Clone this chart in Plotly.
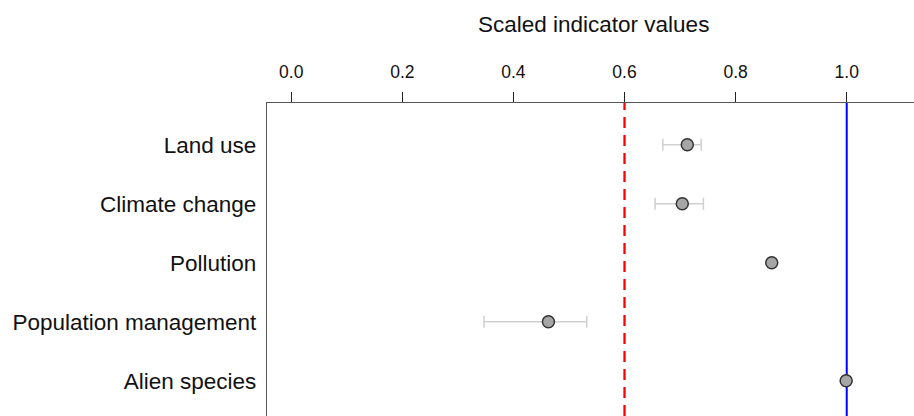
import plotly.graph_objects as go

categories = ["Land use", "Climate change", "Pollution", "Population management", "Alien species"]
values = [0.713, 0.704, 0.865, 0.463, 0.999]
lower = [0.669, 0.655, None, 0.347, None]
upper = [0.738, 0.742, None, 0.532, None]
x_ticks = [0.0, 0.2, 0.4, 0.6, 0.8, 1.0]
x_tick_labels = ["0.0", "0.2", "0.4", "0.6", "0.8", "1.0"]
threshold_red = 0.6
threshold_blue = 1.0

err_plus = [None if u is None else u - v for u, v in zip(upper, values)]
err_minus = [None if l is None else v - l for l, v in zip(lower, values)]

FONT = "Liberation Sans, Arial, sans-serif"

fig = go.Figure()
fig.add_trace(go.Scatter(
    x=values, y=categories, mode="markers",
    marker=dict(size=12, color="#a6a6a6", line=dict(color="#333333", width=1.5)),
    error_x=dict(type="data", symmetric=False, array=err_plus, arrayminus=err_minus,
                 color="#d0d0d0", thickness=1.5, width=6),
    showlegend=False, hoverinfo="skip",
))

fig.add_shape(type="line", xref="x", yref="paper", x0=threshold_red, x1=threshold_red, y0=0, y1=1,
              line=dict(color="#ff0000", width=2.3, dash="11px,7px"), layer="below")
fig.add_shape(type="line", xref="x", yref="paper", x0=threshold_blue, x1=threshold_blue, y0=0, y1=1,
              line=dict(color="#0000ff", width=2), layer="below")

fig.add_annotation(text="Scaled indicator values", xref="paper", yref="paper",
                   x=0.5054, y=1.2504, xanchor="center", yanchor="middle", showarrow=False,
                   font=dict(family=FONT, size=22.5, color="#111111"))

fig.update_layout(
    width=914, height=416,
    margin=dict(l=267, r=0, t=102.5, b=0, pad=0),
    paper_bgcolor="white", plot_bgcolor="white",
    font=dict(family=FONT, color="#111111"),
    xaxis=dict(side="top", range=[-0.0436, 1.1211], tickvals=x_ticks, ticktext=x_tick_labels,
               ticks="outside", ticklen=10, tickwidth=1, tickcolor="#222222",
               showline=True, linecolor="#555555", linewidth=1.3, mirror=False,
               showgrid=False, zeroline=False, tickfont=dict(size=17.5, family=FONT, color="#111111"),
               ticklabelstandoff=7),
    yaxis=dict(type="category", categoryorder="array", categoryarray=categories,
               range=[4.598, -0.707], showline=True, linecolor="#555555", linewidth=1.3,
               mirror=False, showgrid=False, zeroline=False, ticks="",
               tickfont=dict(size=22.5, family=FONT, color="#111111"), ticklabelstandoff=5),
)

fig.write_html("out.html", config={"displayModeBar": False},
               post_script="document.body.style.margin='0px';document.body.style.overflow='hidden';")
